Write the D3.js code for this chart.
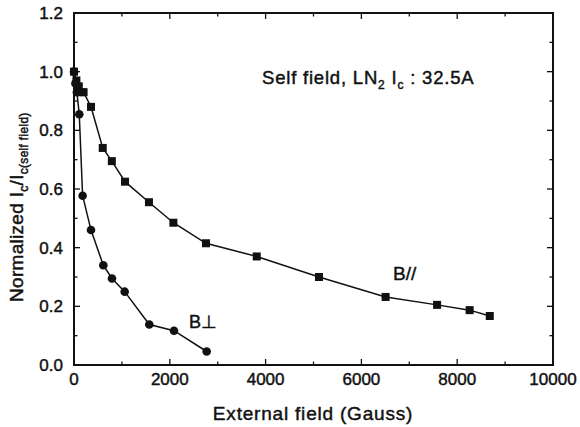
<!DOCTYPE html>
<html><head><meta charset="utf-8">
<script src="https://cdn.jsdelivr.net/npm/d3@7"></script>
<style>body{margin:0;background:#fff}svg{display:block}text{font-family:"Liberation Sans",Arial,sans-serif;fill:#111;stroke:#111;stroke-width:0.45px}</style>
</head><body><svg id="c" width="580" height="427"></svg>
<script>
const parX = [0, 50, 100, 150, 200, 355, 600, 790, 1065, 1565, 2075, 2755, 3815, 5115, 6505, 7580, 8260, 8680];
const parY = [1.0, 0.97, 0.95, 0.93, 0.93, 0.88, 0.74, 0.695, 0.625, 0.555, 0.485, 0.415, 0.37, 0.30, 0.232, 0.205, 0.187, 0.167];
const perpX = [0, 30, 60, 110, 180, 355, 612, 793, 1058, 1572, 2088, 2770];
const perpY = [1.0, 0.96, 0.93, 0.855, 0.577, 0.46, 0.34, 0.295, 0.25, 0.138, 0.117, 0.046];
const xTicks = [0, 2000, 4000, 6000, 8000, 10000];
const yTicks = [0.0, 0.2, 0.4, 0.6, 0.8, 1.0, 1.2];

const svg = d3.select("#c");
const L = 74, R = 553, T = 13, B = 365;
const x = d3.scaleLinear().domain([0, 10000]).range([L, R]);
const y = d3.scaleLinear().domain([0, 1.2]).range([B, T]);

const g = svg.append("g");
const xMinor = d3.range(1000, 10000, 2000);
const yMinor = d3.range(0.1, 1.2, 0.2);
const tk = g.append("g").attr("stroke", "#111").attr("stroke-width", 1.3);
xTicks.slice(1, -1).forEach(v => {
  tk.append("line").attr("x1", x(v)).attr("x2", x(v)).attr("y1", B).attr("y2", B - 6);
  tk.append("line").attr("x1", x(v)).attr("x2", x(v)).attr("y1", T).attr("y2", T + 6);
});
xMinor.forEach(v => {
  tk.append("line").attr("x1", x(v)).attr("x2", x(v)).attr("y1", B).attr("y2", B - 3.5);
  tk.append("line").attr("x1", x(v)).attr("x2", x(v)).attr("y1", T).attr("y2", T + 3.5);
});
yTicks.slice(1, -1).forEach(v => {
  tk.append("line").attr("y1", y(v)).attr("y2", y(v)).attr("x1", L).attr("x2", L + 6);
  tk.append("line").attr("y1", y(v)).attr("y2", y(v)).attr("x1", R).attr("x2", R - 6);
});
yMinor.forEach(v => {
  tk.append("line").attr("y1", y(v)).attr("y2", y(v)).attr("x1", L).attr("x2", L + 3.5);
  tk.append("line").attr("y1", y(v)).attr("y2", y(v)).attr("x1", R).attr("x2", R - 3.5);
});
g.append("rect").attr("x", L).attr("y", T).attr("width", R - L).attr("height", B - T)
  .attr("fill", "none").attr("stroke", "#111").attr("stroke-width", 2);

// tick labels
g.selectAll(".xl").data(xTicks).join("text").attr("x", d => x(d)).attr("y", B + 20)
  .attr("text-anchor", "middle").attr("font-size", 17).text(d => d);
g.selectAll(".yl").data(yTicks).join("text").attr("x", L - 11).attr("y", d => y(d) + 6)
  .attr("text-anchor", "end").attr("font-size", 17).text(d => d.toFixed(1));

// axis titles
g.append("text").attr("x", 313).attr("y", 420).attr("text-anchor", "middle")
  .attr("font-size", 19).attr("letter-spacing", 0.8).text("External field (Gauss)");
const yt = g.append("text").attr("transform", "translate(23,302) rotate(-90)")
  .attr("text-anchor", "start").attr("font-size", 19).attr("letter-spacing", 0.3);
yt.append("tspan").text("Normalized I");
yt.append("tspan").attr("font-size", 12).attr("dy", 5).text("c");
yt.append("tspan").attr("dy", -5).text("/I");
yt.append("tspan").attr("font-size", 12).attr("dy", 5).text("c(self field)");

// lines
const line = d3.line().x(d => x(d[0])).y(d => y(d[1]));
const par = parX.map((v, i) => [v, parY[i]]);
const perp = perpX.map((v, i) => [v, perpY[i]]);
const lg = g.append("g").style("stroke", "#111");
lg.append("path").attr("d", line(par)).attr("fill", "none").attr("stroke-width", 1.5);
lg.append("path").attr("d", line(perp)).attr("fill", "none").attr("stroke-width", 1.5);
g.selectAll(".sq").data(par).join("rect").attr("x", d => x(d[0]) - 4).attr("y", d => y(d[1]) - 4)
  .attr("width", 8).attr("height", 8).attr("fill", "#111");
g.selectAll(".ci").data(perp).join("circle").attr("cx", d => x(d[0])).attr("cy", d => y(d[1]))
  .attr("r", 4.3).attr("fill", "#111");

// annotations
g.append("text").attr("x", 393).attr("y", 280).attr("font-size", 19).text("B//");
g.append("text").attr("x", 189).attr("y", 328).attr("font-size", 18).text("B\u22A5");
const an = g.append("text").attr("x", 262).attr("y", 84).attr("font-size", 18.5).attr("letter-spacing", 0.8);
an.append("tspan").text("Self field, LN");
an.append("tspan").attr("font-size", 12).attr("dy", 5).text("2");
an.append("tspan").attr("dy", -5).text(" I");
an.append("tspan").attr("font-size", 12).attr("dy", 5).text("c");
an.append("tspan").attr("dy", -5).text(" : 32.5A");
</script></body></html>
